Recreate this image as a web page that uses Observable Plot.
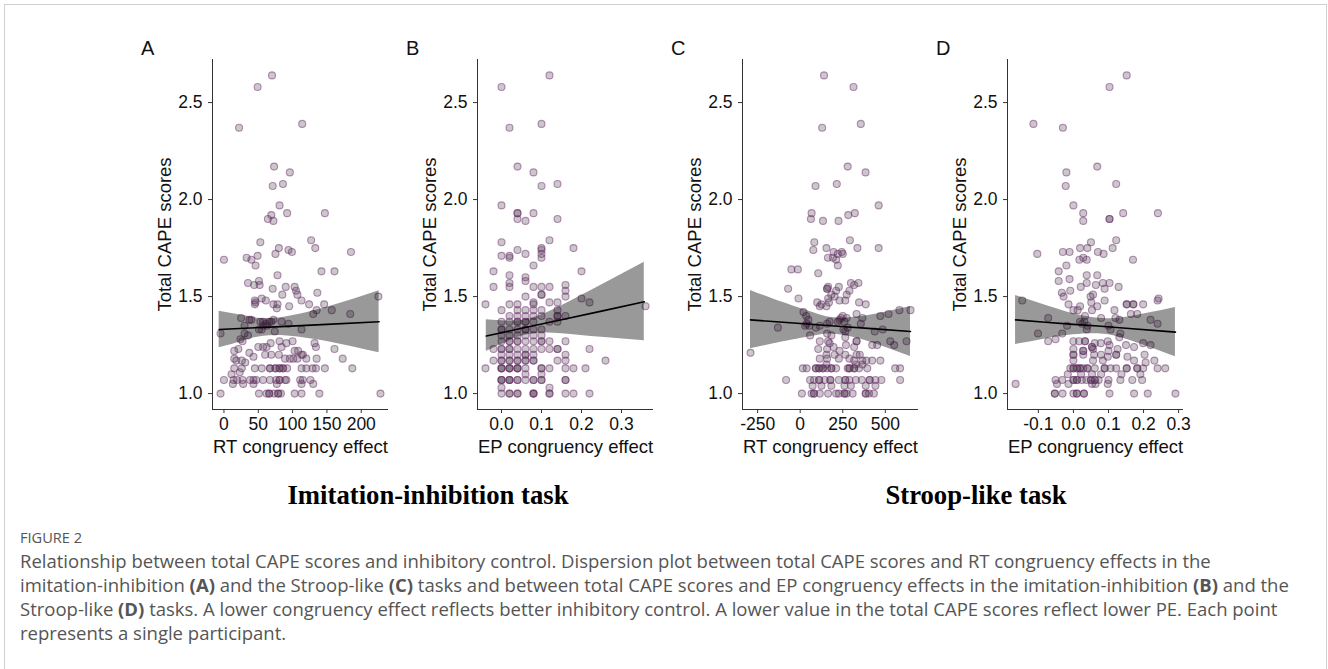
<!DOCTYPE html>
<html>
<head>
<meta charset="utf-8">
<script src="https://cdn.jsdelivr.net/npm/d3@7"></script>
<script src="https://cdn.jsdelivr.net/npm/@observablehq/plot@0.6"></script>
<style>
  body { margin: 0; background: #fff; width: 1328px; height: 669px; overflow: hidden; font-family: "Liberation Sans", Arial, sans-serif; }
  #box { position: absolute; left: 4px; top: 4px; width: 1321px; height: 720px; border: 1px solid #cfcfcf; }
  .panel { position: absolute; top: 30px; }
  .letter { position: absolute; top: 37px; font-size: 20px; line-height: 22px; color: #111; }
  .task { position: absolute; top: 480px; font-family: "Liberation Serif", "Times New Roman", serif; font-weight: bold; font-size: 26.7px; line-height: 30px; transform: translateX(-50%); white-space: nowrap; color: #000; }
  .figlabel { position: absolute; left: 20px; top: 528px; font-family: "Open Sans", sans-serif; font-size: 14.6px; line-height: 18px; color: #555; }
  .caption { position: absolute; left: 20px; top: 549px; font-family: "Open Sans", sans-serif; font-size: 18.5px; line-height: 24px; color: #555; white-space: nowrap; }
  .caption b { color: #555; }
</style>
</head>
<body>
<div id="box"></div>
<div id="root"></div>
<script>
// ---------- data (x = congruency effect, y = total CAPE score) ----------
const yTicks = [1.0, 1.5, 2.0, 2.5];
const yDomain = [0.918, 2.722];

// Panel A: RT congruency effect, imitation-inhibition task
const panelA = [
  [70,2.64],[49,2.58],[22,2.37],[114,2.39],[73,2.17],[96,2.14],[71,2.07],[86,2.08],[81,1.97],[92,1.93],[147,1.93],[69,1.92],[72,1.89],[64,1.90],[53,1.78],[127,1.79],[0,1.69],[33,1.70],[40,1.69],[49,1.71],[75,1.72],[80,1.75],[94,1.74],[99,1.73],[133,1.75],[185,1.73],[46,1.66],[78,1.61],[142,1.63],[161,1.63],
  [35,1.57],[44,1.56],[51,1.58],[52,1.56],[71,1.54],[90,1.55],[103,1.55],[105,1.53],[107,1.51],[136,1.52],[55,1.49],[61,1.48],[45,1.48],[46,1.47],[45,1.46],[85,1.51],[72,1.46],[78,1.46],[77,1.44],[95,1.45],[113,1.48],[124,1.46],[146,1.46],[135,1.43],
  [25,1.39],[37,1.38],[40,1.38],[30,1.35],[53,1.37],[57,1.37],[61,1.36],[66,1.37],[69,1.37],[72,1.38],[57,1.35],[63,1.35],[84,1.37],[94,1.36],[130,1.41],[157,1.43],[184,1.41],[225,1.50],[-5,1.31],[30,1.31],[35,1.30],[24,1.28],[27,1.27],[74,1.32],[113,1.33],[51,1.33],[55,1.33],
  [15,1.22],[21,1.23],[37,1.21],[15,1.18],[18,1.17],[26,1.17],[31,1.16],[50,1.24],[57,1.24],[62,1.24],[68,1.26],[81,1.27],[84,1.24],[91,1.26],[100,1.27],[103,1.22],[108,1.22],[113,1.20],[120,1.18],[132,1.26],[134,1.24],[161,1.23],[173,1.18],[187,1.13],[43,1.19],[60,1.20],[69,1.20],[80,1.20],[89,1.18],[96,1.18],[101,1.18],[107,1.18],[115,1.20],[135,1.18],
  [15,1.13],[26,1.13],[45,1.13],[55,1.13],[67,1.13],[67,1.13],[75,1.13],[75,1.13],[81,1.13],[81,1.13],[86,1.13],[86,1.13],[92,1.13],[113,1.13],[120,1.13],[129,1.13],[134,1.13],[147,1.13],
  [11,1.10],[23,1.11],
  [0,1.07],[14,1.07],[19,1.07],[27,1.07],[38,1.07],[43,1.07],[47,1.07],[57,1.07],[67,1.07],[76,1.07],[81,1.07],[81,1.07],[89,1.07],[91,1.07],[111,1.07],[115,1.07],[126,1.07],
  [13,1.05],[28,1.05],[43,1.05],[77,1.05],[113,1.05],[130,1.05],
  [-5,1],[51,1],[62,1],[66,1],[66,1],[73,1],[79,1],[79,1],[83,1],[103,1],[113,1],[139,1],[228,1]
];

// Panel B: EP congruency effect, imitation-inhibition task
const panelB = [
  [0.12,2.64],[0,2.58],[0.02,2.37],[0.10,2.39],[0.04,2.17],[0.08,2.14],[0.10,2.07],[0.14,2.08],[0,1.97],[0.04,1.93],[0.04,1.93],[0.08,1.93],[0.04,1.90],[0.06,1.89],[0.14,1.90],[0.12,1.79],[0,1.78],[0.18,1.75],[0.04,1.74],[0.06,1.72],[0.10,1.75],[0.10,1.74],[0.10,1.72],[0.10,1.70],[0,1.71],[0.02,1.71],[0.02,1.70],[0.08,1.66],
  [-0.02,1.63],[0.20,1.63],[0.02,1.61],[0.02,1.57],[0.06,1.58],[0.10,1.55],[0.12,1.55],[0.16,1.56],[-0.02,1.55],[0.02,1.55],[0.08,1.55],[0.16,1.53],[0.06,1.60],
  [0.06,1.50],[0.10,1.51],[0.10,1.51],[0.16,1.50],[0.20,1.49],
  [-0.04,1.46],[0.02,1.46],[0.04,1.46],[0.08,1.46],[0.08,1.47],[0.12,1.47],[0.14,1.47],[0.22,1.47],[0.36,1.45],
  [0,1.43],[0.04,1.43],[0.06,1.43],[0.08,1.43],[0.10,1.43],[0.14,1.43],
  [0.02,1.40],[0.04,1.40],[0.06,1.40],[0.08,1.40],[0.10,1.40],[0.14,1.40],[0.14,1.40],[0.16,1.40],
  [0,1.37],[0.02,1.37],[0.04,1.37],[0.04,1.37],[0.06,1.37],[0.06,1.37],[0.08,1.37],[0.12,1.37],[0.14,1.37],
  [0,1.33],[0,1.33],[0.02,1.33],[0.04,1.33],[0.06,1.33],[0.06,1.33],[0.08,1.33],[0.10,1.33],
  [0,1.30],[0.02,1.30],[0.04,1.30],[0.06,1.30],[0.08,1.30],[0.10,1.30],
  [0,1.27],[0.02,1.27],[0.02,1.27],[0.04,1.27],[0.04,1.27],[0.06,1.27],[0.08,1.27],[0.10,1.27],[0.10,1.27],[0.12,1.27],[0.16,1.27],
  [-0.02,1.23],[0,1.23],[0,1.23],[0.02,1.23],[0.02,1.23],[0.04,1.23],[0.06,1.23],[0.08,1.23],[0.10,1.23],[0.12,1.23],[0.14,1.23],[0.14,1.23],[0.22,1.23],
  [0,1.20],[0.02,1.20],[0.04,1.20],[0.06,1.20],[0.06,1.20],[0.08,1.20],[0.16,1.20],
  [-0.02,1.17],[0,1.17],[0,1.17],[0.02,1.17],[0.02,1.17],[0.04,1.17],[0.04,1.17],[0.06,1.17],[0.06,1.17],[0.08,1.17],[0.08,1.17],[0.14,1.17],[0.16,1.17],[0.26,1.17],
  [-0.04,1.13],[0,1.13],[0,1.13],[0,1.13],[0.02,1.13],[0.02,1.13],[0.02,1.13],[0.04,1.13],[0.04,1.13],[0.04,1.13],[0.06,1.13],[0.10,1.13],[0.10,1.13],[0.12,1.13],[0.16,1.13],[0.18,1.13],[0.21,1.13],
  [0.06,1.10],[0.10,1.10],
  [0,1.07],[0,1.07],[0,1.07],[0.02,1.07],[0.02,1.07],[0.02,1.07],[0.04,1.07],[0.04,1.07],[0.06,1.07],[0.08,1.07],[0.08,1.07],[0.10,1.07],[0.10,1.07],[0.16,1.07],[0.16,1.07],
  [0,1.03],[0.12,1.03],
  [0,1],[0.02,1],[0.02,1],[0.04,1],[0.04,1],[0.08,1],[0.08,1],[0.08,1],[0.12,1],[0.12,1],[0.16,1],[0.18,1],[0.22,1]
];

// Panel C: RT congruency effect, Stroop-like task
const panelC = [
  [140,2.64],[313,2.58],[129,2.37],[356,2.39],[279,2.17],[384,2.14],[90,2.07],[215,2.08],[461,1.97],[67,1.93],[63,1.90],[134,1.89],[225,1.89],[282,1.92],[321,1.93],[292,1.79],[83,1.78],[154,1.75],[336,1.75],[461,1.75],[77,1.74],[196,1.73],[221,1.72],[244,1.73],[250,1.72],[163,1.70],[192,1.70],[211,1.69],[-52,1.64],[-14,1.64],[106,1.62],[221,1.66],[-71,1.54],
  [298,1.57],[317,1.56],[342,1.57],[289,1.53],[164,1.55],[158,1.54],[158,1.54],[227,1.55],[211,1.53],[183,1.51],[202,1.50],[164,1.49],[273,1.51],[265,1.48],[231,1.48],[125,1.46],[115,1.45],[100,1.47],[169,1.47],[154,1.45],[-10,1.49],[346,1.47],[385,1.46],[331,1.41],[19,1.42],[35,1.40],[48,1.38],[38,1.36],[-131,1.34],[29,1.35],[54,1.35],[115,1.35],[92,1.34],[158,1.36],[173,1.37],[221,1.37],[240,1.39],[250,1.40],[231,1.38],[260,1.37],[273,1.39],[279,1.34],[254,1.33],[265,1.32],[365,1.39],[356,1.36],[471,1.40],[519,1.41],[583,1.43],[648,1.43],[438,1.32],[485,1.33],[529,1.27],[552,1.25],[625,1.27],[58,1.30],[158,1.31],[183,1.30],[265,1.29],[-292,1.21],
  [115,1.27],[164,1.27],[173,1.26],[331,1.27],[331,1.27],[269,1.25],[317,1.24],[106,1.23],[158,1.23],[196,1.24],[231,1.22],[423,1.25],[452,1.25],[154,1.20],[202,1.20],[265,1.20],[331,1.20],[350,1.20],[115,1.18],[158,1.18],[227,1.18],[289,1.18],[317,1.17],[365,1.17],[388,1.17],[423,1.17],[471,1.17],[327,1.15],[365,1.15],[154,1.15],
  [15,1.13],[38,1.13],[92,1.13],[92,1.13],[111,1.13],[111,1.13],[134,1.13],[134,1.13],[158,1.13],[183,1.13],[183,1.13],[211,1.13],[279,1.13],[289,1.13],[289,1.13],[317,1.13],[317,1.13],[346,1.13],[394,1.13],[558,1.13],[587,1.13],
  [-83,1.07],[58,1.07],[81,1.07],[111,1.07],[111,1.07],[144,1.07],[177,1.07],[177,1.07],[227,1.07],[265,1.07],[265,1.07],[289,1.07],[327,1.07],[362,1.07],[408,1.07],[408,1.07],[442,1.07],[477,1.07],[587,1.07],
  [73,1.04],[125,1.04],[183,1.04],[260,1.04],[298,1.04],[385,1.04],[442,1.04],
  [10,1],[67,1],[81,1],[81,1],[115,1],[164,1],[211,1],[227,1],[260,1],[260,1],[273,1],[308,1],[385,1],[385,1],[404,1],[433,1]
];

// Panel D: EP congruency effect, Stroop-like task
const panelD = [
  [0.152,2.64],[0.103,2.58],[-0.114,2.39],[-0.03,2.37],[0.068,2.17],[-0.02,2.14],[-0.022,2.07],[0.122,2.08],[0,1.97],[0.028,1.93],[0.028,1.89],[0.103,1.90],[0.103,1.90],[0.142,1.93],[0.241,1.93],[0.122,1.79],[0.05,1.78],[0.04,1.75],[0.112,1.75],[0.17,1.69],[0.07,1.73],[0.086,1.72],[-0.103,1.72],[-0.03,1.73],[-0.011,1.73],[-0.02,1.66],[0.019,1.75],[0.017,1.69],[0.028,1.70],[0.038,1.69],[-0.042,1.63],[-0.011,1.59],[-0.042,1.58],[0.038,1.61],[0.068,1.61],[0.084,1.57],[0.038,1.57],[0.021,1.55],[0.064,1.56],[0.103,1.57],[0.129,1.55],[0.056,1.51],[0.049,1.50],[0.089,1.54],[-0.033,1.52],[-0.028,1.50],[-0.009,1.53],[0.243,1.49],
  [-0.146,1.48],[-0.072,1.39],[-0.101,1.31],[-0.165,1.05],[-0.072,1.27],[-0.051,1.28],[-0.032,1.31],[-0.018,1.35],[0,1.43],[0.012,1.43],[0.019,1.37],[0.025,1.36],[0.031,1.37],[0.04,1.35],[0.038,1.33],[0.053,1.43],[0.068,1.45],[0.079,1.39],[0.089,1.48],[0.1,1.35],[0.106,1.33],[0.117,1.43],[0.12,1.39],[0.131,1.38],[0.131,1.29],[0.134,1.31],[0.152,1.46],[0.152,1.46],[0.171,1.46],[0.171,1.46],[0.182,1.41],[0.199,1.46],[0.22,1.38],[0.24,1.36],[0.24,1.48],[0.22,1.25],[0.164,1.41],[-0.014,1.46],[0.019,1.45],[0.033,1.40],[0.051,1.47],
  [0,1.27],[0.016,1.27],[0.033,1.27],[0.033,1.27],[0.053,1.24],[0.053,1.24],[0.061,1.26],[0.078,1.26],[0.098,1.27],[0.103,1.25],[0.15,1.25],[0.173,1.24],[0.199,1.26],
  [0,1.23],[0.028,1.22],[0.028,1.22],[0.056,1.23],[0.1,1.22],[0.126,1.23],[0,1.20],[0,1.20],[0.028,1.20],[0.059,1.20],[0.079,1.20],[0.098,1.19],[0.122,1.20],[0.122,1.20],[0.154,1.19],[0.203,1.20],[0.231,1.17],[0,1.17],[0.056,1.17],[0.084,1.17],[0.173,1.17],[0.206,1.16],
  [-0.009,1.13],[0,1.13],[0,1.13],[0.01,1.13],[0.01,1.13],[0.019,1.13],[0.019,1.13],[0.028,1.13],[0.04,1.13],[0.04,1.13],[0.061,1.13],[0.089,1.13],[0.089,1.13],[0.106,1.13],[0.122,1.13],[0.152,1.13],[0.152,1.13],[0.182,1.13],[0.182,1.13],[0.199,1.13],[0.24,1.13],[0.262,1.13],
  [-0.016,1.10],[0.022,1.10],[0.053,1.10],[0.079,1.10],[0.137,1.10],[0.191,1.10],
  [-0.051,1.07],[-0.032,1.07],[0,1.07],[0,1.07],[0.01,1.07],[0.01,1.07],[0.024,1.07],[0.037,1.07],[0.05,1.07],[0.05,1.07],[0.061,1.07],[0.061,1.07],[0.072,1.07],[0.1,1.07],[0.134,1.07],[0.168,1.07],[0.196,1.07],
  [-0.047,1.05],[-0.014,1.05],[0.053,1.05],[0.063,1.05],[0.098,1.05],
  [-0.053,1],[-0.053,1],[-0.031,1],[0,1],[0.01,1],[0.01,1],[0.03,1],[0.03,1],[0.103,1],[0.173,1],[0.212,1],[0.291,1]
];

// Linear fits with 95% confidence band
const bandAx = [-7, 30, 75, 150, 226];
const bandAfit = [1.33, 1.337, 1.344, 1.357, 1.37];
const bandAlo = [1.236, 1.273, 1.30, 1.269, 1.21];
const bandAhi = [1.425, 1.401, 1.388, 1.445, 1.53];

const bandBx = [-0.038, 0.0, 0.065, 0.15, 0.25, 0.357];
const bandBfit = [1.297, 1.314, 1.343, 1.381, 1.425, 1.473];
const bandBlo = [1.218, 1.253, 1.303, 1.309, 1.29, 1.273];
const bandBhi = [1.38, 1.375, 1.383, 1.453, 1.56, 1.677];

const bandCx = [-292, -100, 100, 220, 400, 648];
const bandCfit = [1.38, 1.368, 1.355, 1.347, 1.336, 1.32];
const bandClo = [1.231, 1.267, 1.30, 1.304, 1.269, 1.191];
const bandChi = [1.532, 1.469, 1.41, 1.39, 1.403, 1.449];

const bandDx = [-0.165, -0.08, 0.0, 0.07, 0.15, 0.291];
const bandDfit = [1.38, 1.368, 1.357, 1.348, 1.337, 1.317];
const bandDlo = [1.253, 1.282, 1.303, 1.308, 1.28, 1.19];
const bandDhi = [1.506, 1.455, 1.411, 1.388, 1.394, 1.444];

const xTicksA = [0, 50, 100, 150, 200];
const xTicksB = [0, 0.1, 0.2, 0.3];
const xTicksC = [-250, 0, 250, 500];
const xTicksD = [-0.1, 0, 0.1, 0.2, 0.3];

const panelLetters = ["A", "B", "C", "D"];
const xLabels = ["RT congruency effect", "EP congruency effect", "RT congruency effect", "EP congruency effect"];
const yLabel = "Total CAPE scores";
const taskLabels = ["Imitation-inhibition task", "Stroop-like task"];

// ---------- drawing ----------
const FONT = "'Liberation Sans', Arial, sans-serif";
const lefts = [140, 405, 670, 935];

function makePanel(pairs, xDomain, xTicks, xFmt, xLabel, bx, bfit, blo, bhi) {
  const pts = pairs.map(([x, y]) => ({x, y}));
  const band = bx.map((x, i) => ({x, fit: bfit[i], lo: blo[i], hi: bhi[i]}));
  return Plot.plot({
    width: 270, height: 439,
    marginLeft: 72, marginRight: 22, marginTop: 29, marginBottom: 60,
    style: {fontFamily: FONT, color: "#111", background: "transparent", overflow: "visible"},
    x: {domain: xDomain},
    y: {domain: yDomain},
    marks: [
      Plot.dot(pts, {x: "x", y: "y", r: 3.5, fill: "#3f343f", fillOpacity: 0.27, stroke: "#6e2c6e", strokeOpacity: 0.5, strokeWidth: 1.1}),
      Plot.areaY(band, {x: "x", y1: "lo", y2: "hi", fill: "#000", fillOpacity: 0.4, curve: "natural"}),
      Plot.line(band, {x: "x", y: "fit", stroke: "#000", strokeWidth: 1.6}),
      Plot.ruleX([xDomain[0]], {stroke: "#333", strokeWidth: 1}),
      Plot.ruleY([yDomain[0]], {stroke: "#333", strokeWidth: 1}),
      Plot.axisX({ticks: xTicks, tickFormat: xFmt, tickSize: 4, tickPadding: 4, fontSize: 17.5, label: null, stroke: "#333"}),
      Plot.axisX({ticks: [], label: xLabel, labelAnchor: "center", labelArrow: "none", labelOffset: 43, fontSize: 18.5}),
      Plot.axisY({ticks: yTicks, tickFormat: d => d.toFixed(1), tickSize: 4, tickPadding: 6, fontSize: 17.5, label: null, stroke: "#333"}),
      Plot.axisY({ticks: [], label: yLabel, labelAnchor: "center", labelArrow: "none", labelOffset: 55, fontSize: 18.5})
    ]
  });
}

const charts = [
  makePanel(panelA, [-16.7, 239.7], xTicksA, d => String(d), xLabels[0], bandAx, bandAfit, bandAlo, bandAhi),
  makePanel(panelB, [-0.06, 0.38], xTicksB, d => d.toFixed(1), xLabels[1], bandBx, bandBfit, bandBlo, bandBhi),
  makePanel(panelC, [-339, 695], xTicksC, d => String(d), xLabels[2], bandCx, bandCfit, bandClo, bandChi),
  makePanel(panelD, [-0.188, 0.314], xTicksD, d => d.toFixed(1), xLabels[3], bandDx, bandDfit, bandDlo, bandDhi)
];

const root = document.getElementById("root");
charts.forEach((svg, i) => {
  const wrap = document.createElement("div");
  wrap.className = "panel";
  wrap.style.left = lefts[i] + "px";
  wrap.appendChild(svg);
  root.appendChild(wrap);
  const letter = document.createElement("div");
  letter.className = "letter";
  letter.style.left = (lefts[i] + 1) + "px";
  letter.textContent = panelLetters[i];
  root.appendChild(letter);
});

[[taskLabels[0], 428], [taskLabels[1], 976]].forEach(([t, cx]) => {
  const d = document.createElement("div");
  d.className = "task";
  d.style.left = cx + "px";
  d.textContent = t;
  root.appendChild(d);
});

const fig = document.createElement("div");
fig.className = "figlabel";
fig.textContent = "FIGURE 2";
root.appendChild(fig);

const cap = document.createElement("div");
cap.className = "caption";
cap.innerHTML =
  "Relationship between total CAPE scores and inhibitory control. Dispersion plot between total CAPE scores and RT congruency effects in the<br>" +
  "imitation-inhibition <b>(A)</b> and the Stroop-like <b>(C)</b> tasks and between total CAPE scores and EP congruency effects in the imitation-inhibition <b>(B)</b> and the<br>" +
  "Stroop-like <b>(D)</b> tasks. A lower congruency effect reflects better inhibitory control. A lower value in the total CAPE scores reflect lower PE. Each point<br>" +
  "represents a single participant.";
root.appendChild(cap);
</script>
</body>
</html>
